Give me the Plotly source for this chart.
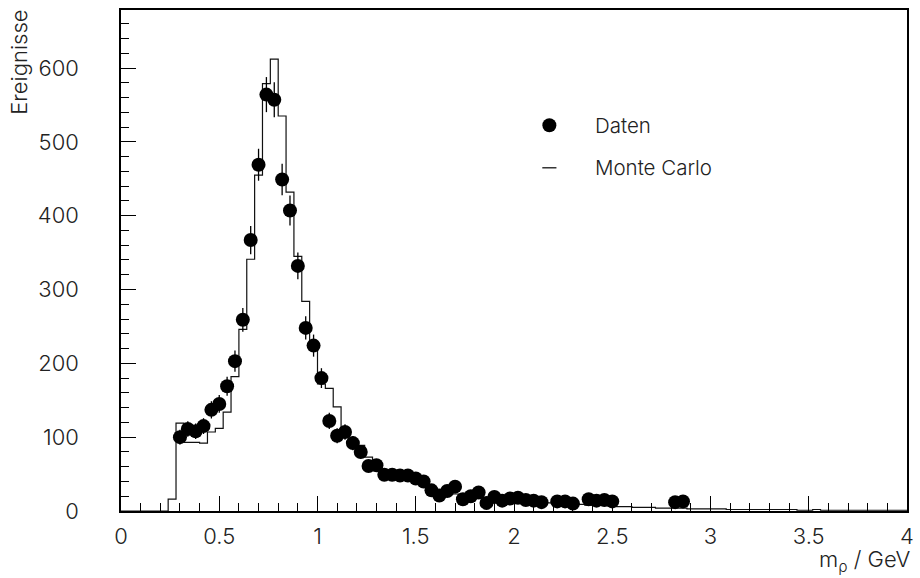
import numpy as np
import plotly.graph_objects as go

# --- measured data (bin centres in GeV, event counts) ---
data_mass = [0.30, 0.34, 0.38, 0.42, 0.46, 0.50, 0.54, 0.58, 0.62, 0.66,
             0.70, 0.74, 0.78, 0.82, 0.86, 0.90, 0.94, 0.98, 1.02, 1.06,
             1.10, 1.14, 1.18, 1.22, 1.26, 1.30, 1.34, 1.38, 1.42, 1.46,
             1.50, 1.54, 1.58, 1.62, 1.66, 1.70, 1.74, 1.78, 1.82, 1.86,
             1.90, 1.94, 1.98, 2.02, 2.06, 2.10, 2.14, 2.22, 2.26, 2.30,
             2.38, 2.42, 2.46, 2.50, 2.82, 2.86]
data_counts = [100, 111, 108, 115, 137, 145, 169, 203, 259, 367,
               469, 564, 557, 449, 407, 332, 248, 224, 180, 122,
               102, 107, 92, 80, 61, 62, 49, 49, 48, 48,
               44, 40, 28, 21, 27, 33, 16, 20, 25, 11,
               19, 14, 17, 18, 15, 14, 12, 13, 13, 10,
               16, 14, 15, 13, 12, 13]
data_err = np.sqrt(np.array(data_counts, dtype=float))

# --- Monte Carlo histogram: lower bin edges (width 0.04 GeV) and contents ---
mc_width = 0.04
mc_low_edges = [round(0.04 * i, 2) for i in range(100)]
mc_counts = [0, 0, 0, 0, 0, 0, 16, 119, 93, 93,
             92, 107, 112, 134, 182, 246, 341, 455, 579, 612,
             535, 432, 345, 284, 218, 172, 166, 141, 110, 96,
             89, 73, 64, 55, 50, 47, 44, 40, 36, 32,
             28, 25, 23, 21, 19, 18, 17, 16, 15, 14,
             13, 13, 12, 11, 11, 10, 10, 9, 9, 8,
             8, 8, 7, 6, 6, 5, 5, 5, 4, 4,
             4, 4, 3, 3, 3, 3, 3, 2, 2, 2,
             2, 2, 2, 2, 2, 2, 1, 1, 2, 1,
             1, 1, 1, 1, 1, 1, 1, 1, 1, 1]

x_ticks = [0, 0.5, 1, 1.5, 2, 2.5, 3, 3.5, 4]
x_tick_text = ["0", "0.5", "1", "1.5", "2", "2.5", "3", "3.5", "4"]
y_ticks = [0, 100, 200, 300, 400, 500, 600]
y_tick_text = ["0", "100", "200", "300", "400", "500", "600"]

FONT = "Inter"
TICK_SIZE = 22
LABEL_SIZE = 20.5
TEXT_COLOR = "#222"

# step outline: repeat last content at the final edge
mc_x = list(mc_low_edges) + [round(mc_low_edges[-1] + mc_width, 2)]
mc_y = list(mc_counts) + [mc_counts[-1]]

fig = go.Figure()

fig.add_trace(go.Scatter(
    x=mc_x, y=mc_y, mode="lines", line_shape="hv",
    line=dict(color="#111", width=1.2),
    name="Monte Carlo", showlegend=False, hoverinfo="skip",
))

fig.add_trace(go.Scatter(
    x=data_mass, y=data_counts, mode="markers",
    marker=dict(symbol="circle", size=14, color="black",
                line=dict(width=0)),
    error_y=dict(type="data", array=data_err, visible=True,
                 thickness=1.3, width=0, color="black"),
    name="Daten", showlegend=False,
))

axis_common = dict(
    showline=True, linecolor="black", linewidth=1.5, mirror=True,
    ticks="inside", ticklen=15, tickwidth=1.2, tickcolor="black",
    showgrid=False, zeroline=False,
    tickfont=dict(family=FONT, size=TICK_SIZE, color=TEXT_COLOR, weight=300),
)

fig.update_xaxes(
    range=[0, 4], tickvals=x_ticks, ticktext=x_tick_text,
    minor=dict(dtick=0.1, ticks="inside", ticklen=8, tickwidth=1,
               tickcolor="black", showgrid=False),
    ticklabelstandoff=5,
    **axis_common,
)
fig.update_yaxes(
    range=[0, 678.6], tickvals=y_ticks, ticktext=y_tick_text,
    minor=dict(dtick=20, ticks="inside", ticklen=8, tickwidth=1,
               tickcolor="black", showgrid=False),
    ticklabelstandoff=36,
    **axis_common,
)

# legend drawn by hand in paper coordinates
leg_font = dict(family=FONT, size=LABEL_SIZE, color=TEXT_COLOR, weight=300)
title_font = dict(family=FONT, size=22, color=TEXT_COLOR, weight=300)
shapes = [
    dict(type="circle", xref="paper", yref="paper",
         xsizemode="pixel", ysizemode="pixel",
         xanchor=0.545, yanchor=0.770, x0=-7, x1=7, y0=-7, y1=7,
         fillcolor="black", line=dict(width=0)),
    dict(type="line", xref="paper", yref="paper",
         x0=0.536, x1=0.554, y0=0.685, y1=0.685,
         line=dict(color="black", width=1.2)),
]
annotations = [
    dict(text="Daten", xref="paper", yref="paper", x=0.600, y=0.770,
         xanchor="left", yanchor="middle", showarrow=False, font=leg_font),
    dict(text="Monte Carlo", xref="paper", yref="paper", x=0.600, y=0.685,
         xanchor="left", yanchor="middle", showarrow=False, font=leg_font),
    dict(text="Ereignisse", xref="paper", yref="paper", x=-0.130, y=1.005,
         xanchor="center", yanchor="top", textangle=-90, showarrow=False,
         font=title_font),
    dict(text="m<sub>ρ</sub> / GeV", xref="paper", yref="paper", x=1.008, y=-0.10,
         xanchor="right", yanchor="middle", showarrow=False, font=title_font),
]

fig.update_layout(
    width=920, height=578,
    margin=dict(l=121, r=6, t=10, b=67),
    paper_bgcolor="white", plot_bgcolor="white",
    shapes=shapes, annotations=annotations,
    showlegend=False,
)

fig.write_html("out.html")
